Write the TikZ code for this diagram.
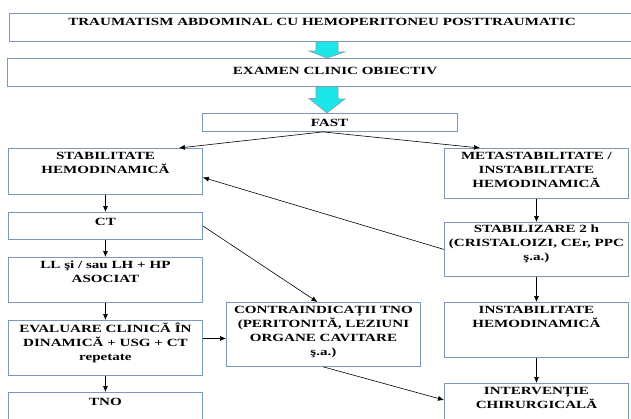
\documentclass[tikz,border=0pt]{standalone}
\usepackage{fontspec}
\setmainfont{Liberation Serif}[FakeStretch=1.37]
\usepackage{xcolor}
\usetikzlibrary{positioning, calc, arrows.meta}
\definecolor{boxline}{HTML}{7B98BA}
\definecolor{bigfill}{HTML}{1DE6E9}
\definecolor{bigline}{HTML}{8A9DAE}

\begin{document}
\begin{tikzpicture}[
        x=1pt, y=-1pt,
        box/.style={rectangle, draw=boxline, line width=0.9pt, inner sep=0pt, anchor=north west},
        txt/.style={font=\fontsize{11}{14}\selectfont\bfseries, align=center, inner sep=0pt, anchor=north, execute at begin node=\strut},
        bigarrow/.style={draw=bigline, fill=bigfill, line width=0.6pt, line join=miter},
        link/.style={-{Latex[length=6pt,width=5pt]}, line width=0.6pt}
    ]
        \useasboundingbox (0,0) rectangle (631,418);
        \fill[white] (0,0) rectangle (631,418);
        \clip (0,0) rectangle (631,418);

        % Boxes
        \node (trauma) [box, minimum width=640pt, minimum height=28pt] at (9,13) {};
        \node (exam) [box, minimum width=640pt, minimum height=28pt] at (7,58) {};
        \node (fast) [box, minimum width=255pt, minimum height=18pt] at (202,113) {};

        \node (stab) [box, minimum width=194pt, minimum height=46pt] at (8,148) {};
        \node (ct) [box, minimum width=194pt, minimum height=27pt] at (8,212) {};
        \node (ll) [box, minimum width=194pt, minimum height=45pt] at (8,257) {};
        \node (eval) [box, minimum width=194pt, minimum height=55pt] at (8,320) {};
        \node (tno) [box, minimum width=194pt, minimum height=40pt] at (8,392) {};
        \node (contra) [box, minimum width=194pt, minimum height=64pt] at (226,302) {};

        \node (meta) [box, minimum width=184pt, minimum height=50pt] at (444,148) {};
        \node (stabz) [box, minimum width=184pt, minimum height=54pt] at (444,222) {};
        \node (instab) [box, minimum width=184pt, minimum height=55pt] at (444,302) {};
        \node (interv) [box, minimum width=184pt, minimum height=45pt] at (444,383) {};

        % Texts
        \node (trauma-t) [txt] at (322,15.5) {TRAUMATISM ABDOMINAL CU HEMOPERITONEU POSTTRAUMATIC};
        \node (exam-t) [txt] at (335,64.5) {EXAMEN CLINIC OBIECTIV};
        \node (fast-t) [txt] at (329.5,116.5) {FAST};
        \node (stab-t) [txt, below=4pt of stab.north] {STABILITATE\\HEMODINAMICĂ};
        \node (ct-t) [txt, below=3pt of ct.north] {CT};
        \node (ll-t) [txt, below=3.5pt of ll.north] {LL şi / sau LH + HP\\ASOCIAT};
        \node (eval-t) [txt, below=3pt of eval.north] {EVALUARE CLINICĂ ÎN\\DINAMICĂ + USG + CT\\repetate};
        \node (tno-t) [txt, below=3.5pt of tno.north] {TNO};
        \node (contra-t) [txt, below=4pt of contra.north] {CONTRAINDICAȚII TNO\\(PERITONITĂ, LEZIUNI\\ORGANE CAVITARE\\ş.a.)};
        \node (meta-t) [txt, below=4pt of meta.north] {METASTABILITATE /\\INSTABILITATE\\HEMODINAMICĂ};
        \node (stabz-t) [txt, below=3pt of stabz.north] {STABILIZARE 2 h\\(CRISTALOIZI, CEr, PPC\\ş.a.)};
        \node (instab-t) [txt, below=4pt of instab.north] {INSTABILITATE\\HEMODINAMICĂ};
        \node (interv-t) [txt, below=4pt of interv.north] {INTERVENȚIE\\CHIRURGICALĂ};

        % Block arrows
        \coordinate (a1) at ($(trauma.south west)+(318,0)$);
        \draw[bigarrow] (a1) ++(-11,0) -- ++(22,0) -- ++(0,10) -- ++(7,0) -- (exam.north -| a1) -- ++(-18,-7) -- ++(7,0) -- cycle;
        \coordinate (a2) at (exam.south -| a1);
        \draw[bigarrow] (a2) ++(-11,0) -- ++(22,0) -- ++(0,12) -- ++(7,0) -- (fast.north -| a1) -- ++(-18,-14.5) -- ++(7,0) -- cycle;

        % Arrows
        \draw[link] ($(fast.south)+(-7,0)$) -- ($(stab.north east)+(-24,0)$);
        \draw[link] ($(fast.south)+(-7,0)$) -- ($(meta.north west)+(36,0)$);

        \draw[link] (stab) -- (ct);
        \draw[link] (ct) -- (ll);
        \draw[link] (ll) -- (eval);
        \draw[link] (eval.south) -- (tno.north);

        \draw[link] (ct.east) -- ($(contra.north)+(-6,0)$);
        \draw[link] (eval.east |- contra.west) ++(0,4) -- ($(contra.west)+(0,4)$);
        \draw[link] (stabz.west) -- ($(stab.east)+(0,6)$);

        \draw[link] (meta) -- (stabz);
        \draw[link] (stabz) -- (instab);
        \draw[link] (instab.south) -- (interv.north);
        \draw[link] (contra.south) -- ($(interv.north west)+(0,17)$);
    \end{tikzpicture}
\end{document}
